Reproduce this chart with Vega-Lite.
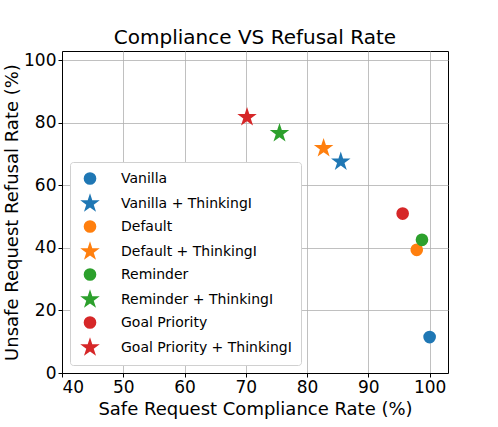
{
  "$schema": "https://vega.github.io/schema/vega-lite/v6.json",
  "width": 386,
  "height": 322,
  "padding": {"left": 3, "top": 28, "right": 5, "bottom": 5},
  "background": "white",
  "title": {"text": "Compliance VS Refusal Rate", "font": "DejaVu Sans", "fontSize": 20, "fontWeight": "normal", "color": "black", "offset": 3},
  "config": {
    "font": "DejaVu Sans",
    "view": {"stroke": "black", "strokeWidth": 1},
    "axis": {"grid": true, "gridColor": "#b0b0b0", "gridWidth": 0.8, "domainColor": "black", "tickColor": "black", "labelColor": "black", "titleColor": "black", "labelFontSize": 17, "titleFontSize": 18, "titleFontWeight": "normal", "tickSize": 4}
  },
  "data": {"values": [
    {"series": "Vanilla", "comp": 100.0, "refu": 11.5},
    {"series": "Vanilla + ThinkingI", "comp": 85.5, "refu": 67.6},
    {"series": "Default", "comp": 97.9, "refu": 39.4},
    {"series": "Default + ThinkingI", "comp": 82.7, "refu": 71.9},
    {"series": "Reminder", "comp": 98.75, "refu": 42.6},
    {"series": "Reminder + ThinkingI", "comp": 75.5, "refu": 76.7},
    {"series": "Goal Priority", "comp": 95.6, "refu": 51.0},
    {"series": "Goal Priority + ThinkingI", "comp": 70.2, "refu": 81.8}
  ]},
  "mark": {"type": "point", "filled": true, "opacity": 1},
  "encoding": {
    "x": {"field": "comp", "type": "quantitative", "title": "Safe Request Compliance Rate (%)", "scale": {"domain": [40, 103], "nice": false, "zero": false}, "axis": {"values": [40, 50, 60, 70, 80, 90, 100], "titlePadding": 5}},
    "y": {"field": "refu", "type": "quantitative", "title": "Unsafe Request Refusal Rate (%)", "scale": {"domain": [0, 103], "nice": false}, "axis": {"values": [0, 20, 40, 60, 80, 100], "titlePadding": 2}},
    "color": {"field": "series", "type": "nominal",
      "scale": {"domain": ["Vanilla", "Vanilla + ThinkingI", "Default", "Default + ThinkingI", "Reminder", "Reminder + ThinkingI", "Goal Priority", "Goal Priority + ThinkingI"],
        "range": ["#1f77b4", "#1f77b4", "#ff7f0e", "#ff7f0e", "#2ca02c", "#2ca02c", "#d62728", "#d62728"]},
      "legend": {"title": null, "orient": "bottom-left", "offset": 8, "labelFontSize": 14, "labelColor": "black", "labelLimit": 300, "rowPadding": 6.5, "padding": 9, "strokeColor": "#d0d0d0", "fillColor": "white", "cornerRadius": 3, "labelOffset": 20}},
    "shape": {"field": "series", "type": "nominal",
      "scale": {"domain": ["Vanilla", "Vanilla + ThinkingI", "Default", "Default + ThinkingI", "Reminder", "Reminder + ThinkingI", "Goal Priority", "Goal Priority + ThinkingI"],
        "range": ["circle", "M0,-1L0.2245,-0.309L0.951,-0.309L0.363,0.118L0.588,0.809L0,0.382L-0.588,0.809L-0.363,0.118L-0.951,-0.309L-0.2245,-0.309Z", "circle", "M0,-1L0.2245,-0.309L0.951,-0.309L0.363,0.118L0.588,0.809L0,0.382L-0.588,0.809L-0.363,0.118L-0.951,-0.309L-0.2245,-0.309Z", "circle", "M0,-1L0.2245,-0.309L0.951,-0.309L0.363,0.118L0.588,0.809L0,0.382L-0.588,0.809L-0.363,0.118L-0.951,-0.309L-0.2245,-0.309Z", "circle", "M0,-1L0.2245,-0.309L0.951,-0.309L0.363,0.118L0.588,0.809L0,0.382L-0.588,0.809L-0.363,0.118L-0.951,-0.309L-0.2245,-0.309Z"]}},
    "size": {"field": "series", "type": "nominal",
      "scale": {"type": "ordinal", "domain": ["Vanilla", "Vanilla + ThinkingI", "Default", "Default + ThinkingI", "Reminder", "Reminder + ThinkingI", "Goal Priority", "Goal Priority + ThinkingI"],
        "range": [160, 420, 160, 420, 160, 420, 160, 420]}}
  }
}
